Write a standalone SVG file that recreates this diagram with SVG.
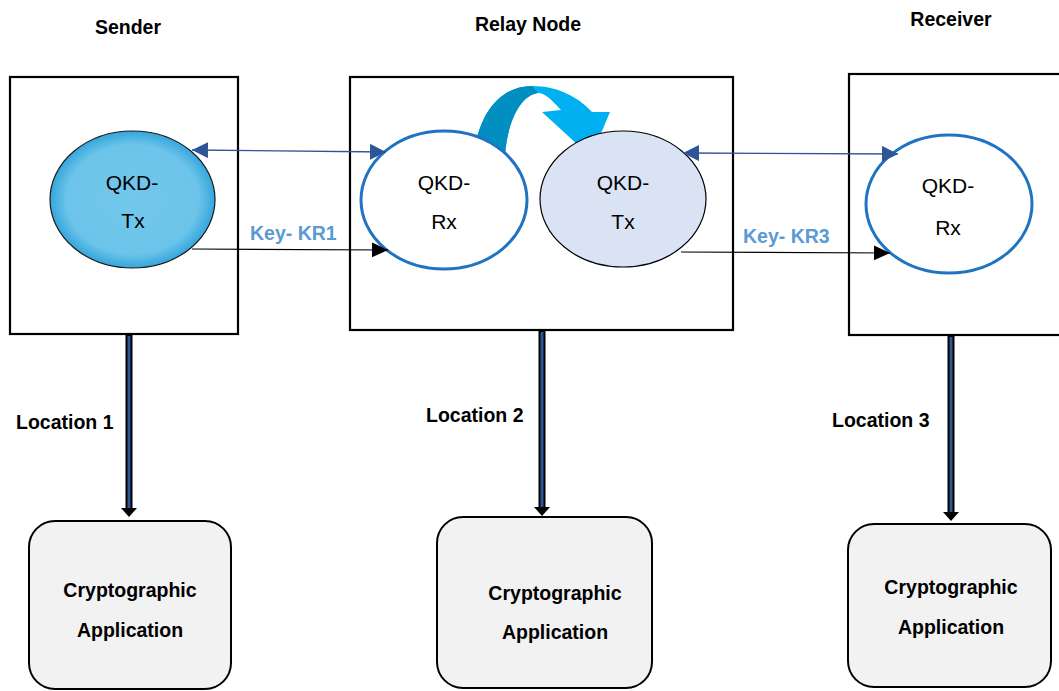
<svg xmlns="http://www.w3.org/2000/svg" width="1059" height="691" viewBox="0 0 1059 691">
<defs>
<style>
.box{fill:#fff;stroke:#000;stroke-width:2.2}
.app{fill:#f2f2f2;stroke:#000;stroke-width:2}
.rx{fill:#fff;stroke:#1f74c2;stroke-width:3}
.t{font-family:"Liberation Sans",Arial,sans-serif;fill:#000}
.q{font-size:21px;text-anchor:middle}
.b{font-size:19.5px;font-weight:bold}
.k{font-size:19.5px;font-weight:bold;fill:#5b9bd5}
.blu{stroke:#2f5597;stroke-width:1.3;fill:none}
.blk{stroke:#000;stroke-width:1.2;fill:none}
.vo{stroke:#000;stroke-width:7}
.vi{stroke:#2f5597;stroke-width:3}
</style>
<radialGradient id="gtx" cx="0.5" cy="0.5" r="0.5">
<stop offset="0" stop-color="#72c7eb"/>
<stop offset="0.8" stop-color="#6cc4ea"/>
<stop offset="1" stop-color="#35a6dc"/>
</radialGradient>
<marker id="mb" markerUnits="userSpaceOnUse" markerWidth="16" markerHeight="16" refX="15" refY="7.5" orient="auto-start-reverse" viewBox="0 0 15 15">
<path d="M0,0 L15,7.5 L0,15 Z" fill="#2f5597"/>
</marker>
<marker id="mk" markerUnits="userSpaceOnUse" markerWidth="16" markerHeight="16" refX="15" refY="7" orient="auto" viewBox="0 0 15 14">
<path d="M0,0 L15,7 L0,14 Z" fill="#000"/>
</marker>
</defs>

<rect width="1059" height="691" fill="#fff"/>

<g id="sender">
<rect class="box" x="10" y="77" width="228" height="257"/>
<ellipse cx="132.5" cy="199.5" rx="82.5" ry="68.5" fill="url(#gtx)" stroke="#1a1a1a" stroke-width="1.2"/>
<text class="t q" x="132" y="190">QKD-</text>
<text class="t q" x="133" y="228">Tx</text>
</g>

<g id="relay">
<rect class="box" x="350" y="77" width="383" height="253"/>
<path d="M476,142 C484,106 505,86 532,86 C558,86 578,97 592,112 L610,112 L591,157 L542,112 L561,110 C552,100 545,93 538,93 C522,95 508,118 505,155 Z" fill="#00b0f0"/>
<path d="M476,142 C484,106 505,86 532,86 L538,93 C522,95 508,118 505,155 Z" fill="#008fc0"/>
<ellipse class="rx" cx="444" cy="200" rx="83" ry="69"/>
<ellipse cx="623" cy="199" rx="83" ry="68" fill="#dae3f3" stroke="#000" stroke-width="1.2"/>
<text class="t q" x="444" y="190">QKD-</text>
<text class="t q" x="444" y="229">Rx</text>
<text class="t q" x="623" y="190">QKD-</text>
<text class="t q" x="623" y="229">Tx</text>
</g>

<g id="receiver">
<rect class="box" x="849" y="74" width="215" height="261"/>
<ellipse class="rx" cx="949" cy="204" rx="83" ry="69"/>
<text class="t q" x="948" y="193">QKD-</text>
<text class="t q" x="948" y="235">Rx</text>
</g>

<g id="app1">
<rect class="app" x="29" y="521" width="202" height="168" rx="26"/>
<text class="t b" x="130" y="597" text-anchor="middle">Cryptographic</text>
<text class="t b" x="130" y="637" text-anchor="middle">Application</text>
</g>
<g id="app2">
<rect class="app" x="437" y="517" width="215" height="171" rx="26"/>
<text class="t b" x="555" y="600" text-anchor="middle">Cryptographic</text>
<text class="t b" x="555" y="639" text-anchor="middle">Application</text>
</g>
<g id="app3">
<rect class="app" x="848" y="524" width="203" height="163" rx="26"/>
<text class="t b" x="951" y="594" text-anchor="middle">Cryptographic</text>
<text class="t b" x="951" y="634" text-anchor="middle">Application</text>
</g>

<g id="connectors">
<line class="blu" x1="192" y1="150" x2="386" y2="152" marker-start="url(#mb)" marker-end="url(#mb)"/>
<line class="blk" x1="192" y1="249" x2="388" y2="250" marker-end="url(#mk)"/>
<line class="blu" x1="683" y1="153" x2="898" y2="154" marker-start="url(#mb)" marker-end="url(#mb)"/>
<line class="blk" x1="681" y1="252" x2="890" y2="253" marker-end="url(#mk)"/>

<line class="vo" x1="129" y1="335" x2="129" y2="509"/>
<line class="vi" x1="129" y1="336" x2="129" y2="508"/>
<path d="M121,508 L137,508 L129,517 Z" fill="#000"/>
<line class="vo" x1="542" y1="331" x2="542" y2="508"/>
<line class="vi" x1="542" y1="332" x2="542" y2="507"/>
<path d="M534,507 L550,507 L542,516 Z" fill="#000"/>
<line class="vo" x1="951" y1="336" x2="951" y2="513"/>
<line class="vi" x1="951" y1="337" x2="951" y2="512"/>
<path d="M943,512 L959,512 L951,521 Z" fill="#000"/>
</g>

<g id="labels">
<text class="t b" x="128" y="34" text-anchor="middle">Sender</text>
<text class="t b" x="528" y="31" text-anchor="middle">Relay Node</text>
<text class="t b" x="951" y="26" text-anchor="middle">Receiver</text>
<text class="t b" x="16" y="429">Location 1</text>
<text class="t b" x="426" y="422">Location 2</text>
<text class="t b" x="832" y="427">Location 3</text>
<text class="t k" x="250" y="240">Key- KR1</text>
<text class="t k" x="743" y="243">Key- KR3</text>
</g>
</svg>
